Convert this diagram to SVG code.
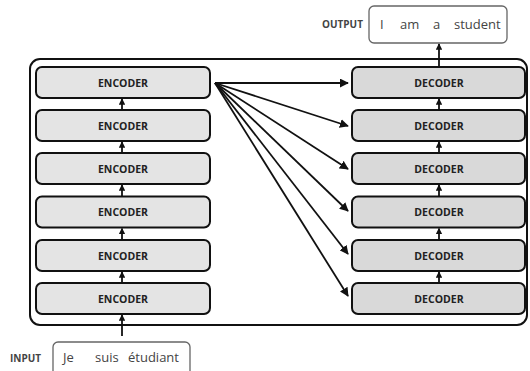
<svg xmlns="http://www.w3.org/2000/svg" width="530" height="371" viewBox="0 0 530 371">
  <defs>
    <marker id="head" viewBox="0 0 10 10" refX="9" refY="5" markerWidth="5" markerHeight="5" orient="auto" markerUnits="strokeWidth">
      <path d="M0,0 L10,5 L0,10 z" fill="#111"/>
    </marker>
    <marker id="headSmall" viewBox="0 0 10 10" refX="9" refY="5" markerWidth="3.6" markerHeight="3.6" orient="auto" markerUnits="strokeWidth">
      <path d="M0,0 L10,5 L0,10 z" fill="#111"/>
    </marker>
  </defs>
  <style>
    .frame { fill: #fff; stroke: #111; stroke-width: 2; }
    .enc { fill: #e4e4e4; stroke: #111; stroke-width: 2; }
    .dec { fill: #d9d9d9; stroke: #111; stroke-width: 2; }
    .io { fill: #fff; stroke: #666; stroke-width: 1.3; }
    .lbl { font-family: "Open Sans", "DejaVu Sans", sans-serif; font-weight: bold; font-size: 10.5px; fill: #222; text-anchor: middle; }
    .side { font-family: "Open Sans", "DejaVu Sans", sans-serif; font-weight: bold; font-size: 10px; fill: #444; }
    .word { font-family: "Open Sans", "DejaVu Sans", sans-serif; font-size: 13px; fill: #444; }
    .wire { stroke: #111; stroke-width: 1.8; fill: none; marker-end: url(#head); }
    .step { stroke: #111; stroke-width: 1.8; fill: none; marker-end: url(#headSmall); }
  </style>

  <!-- container frame -->
  <rect class="frame" x="30" y="59" width="497" height="266" rx="10"/>

  <!-- encoder stack -->
  <g id="encoder1"><rect class="enc" x="36" y="67" width="174" height="31" rx="6"/><text class="lbl" x="123" y="86.5">ENCODER</text></g>
  <g id="encoder2"><rect class="enc" x="36" y="110" width="174" height="31" rx="6"/><text class="lbl" x="123" y="129.5">ENCODER</text></g>
  <g id="encoder3"><rect class="enc" x="36" y="153" width="174" height="31" rx="6"/><text class="lbl" x="123" y="172.5">ENCODER</text></g>
  <g id="encoder4"><rect class="enc" x="36" y="196.5" width="174" height="31" rx="6"/><text class="lbl" x="123" y="216">ENCODER</text></g>
  <g id="encoder5"><rect class="enc" x="36" y="240" width="174" height="31" rx="6"/><text class="lbl" x="123" y="259.5">ENCODER</text></g>
  <g id="encoder6"><rect class="enc" x="36" y="283" width="174" height="31" rx="6"/><text class="lbl" x="123" y="302.5">ENCODER</text></g>

  <!-- decoder stack -->
  <g id="decoder1"><rect class="dec" x="352" y="67" width="173" height="31" rx="6"/><text class="lbl" x="439" y="86.5">DECODER</text></g>
  <g id="decoder2"><rect class="dec" x="352" y="110" width="173" height="31" rx="6"/><text class="lbl" x="439" y="129.5">DECODER</text></g>
  <g id="decoder3"><rect class="dec" x="352" y="153" width="173" height="31" rx="6"/><text class="lbl" x="439" y="172.5">DECODER</text></g>
  <g id="decoder4"><rect class="dec" x="352" y="196.5" width="173" height="31" rx="6"/><text class="lbl" x="439" y="216">DECODER</text></g>
  <g id="decoder5"><rect class="dec" x="352" y="240" width="173" height="31" rx="6"/><text class="lbl" x="439" y="259.5">DECODER</text></g>
  <g id="decoder6"><rect class="dec" x="352" y="283" width="173" height="31" rx="6"/><text class="lbl" x="439" y="302.5">DECODER</text></g>

  <!-- input sentence -->
  <g id="input">
    <text class="side" x="10" y="362">INPUT</text>
    <path class="io" d="M53,372 V347 a5,5 0 0 1 5,-5 H185 a5,5 0 0 1 5,5 V372"/>
    <text class="word" x="63" y="362">Je</text>
    <text class="word" x="95" y="362">suis</text>
    <text class="word" x="128" y="362">étudiant</text>
  </g>

  <!-- output sentence -->
  <g id="output">
    <text class="side" x="322" y="28">OUTPUT</text>
    <rect class="io" x="369" y="6" width="138" height="37" rx="5"/>
    <text class="word" x="380" y="29">I</text>
    <text class="word" x="400" y="29">am</text>
    <text class="word" x="433" y="29">a</text>
    <text class="word" x="454" y="29">student</text>
  </g>

  <!-- connectors -->
  <g id="connectors">
    <!-- input into first encoder -->
    <line class="step" x1="122" y1="336" x2="122" y2="315"/>
    <!-- encoder to encoder, flowing upward -->
    <line class="step" x1="122" y1="283" x2="122" y2="272"/>
    <line class="step" x1="122" y1="240" x2="122" y2="228.5"/>
    <line class="step" x1="122" y1="196.5" x2="122" y2="185"/>
    <line class="step" x1="122" y1="153" x2="122" y2="142"/>
    <line class="step" x1="122" y1="110" x2="122" y2="99"/>
    <!-- decoder to decoder -->
    <line class="step" x1="439" y1="283" x2="439" y2="272"/>
    <line class="step" x1="439" y1="240" x2="439" y2="228.5"/>
    <line class="step" x1="439" y1="196.5" x2="439" y2="185"/>
    <line class="step" x1="439" y1="153" x2="439" y2="142"/>
    <line class="step" x1="439" y1="110" x2="439" y2="99"/>
    <!-- last decoder to output -->
    <line class="step" x1="439" y1="67" x2="439" y2="44"/>
    <!-- top encoder fans out to every decoder -->
    <line class="wire" x1="215" y1="83" x2="348" y2="83"/>
    <line class="wire" x1="215" y1="83" x2="348" y2="126"/>
    <line class="wire" x1="215" y1="83" x2="348" y2="169"/>
    <line class="wire" x1="215" y1="83" x2="348" y2="211"/>
    <line class="wire" x1="215" y1="83" x2="348" y2="254"/>
    <line class="wire" x1="215" y1="83" x2="348" y2="296"/>
  </g>
</svg>
